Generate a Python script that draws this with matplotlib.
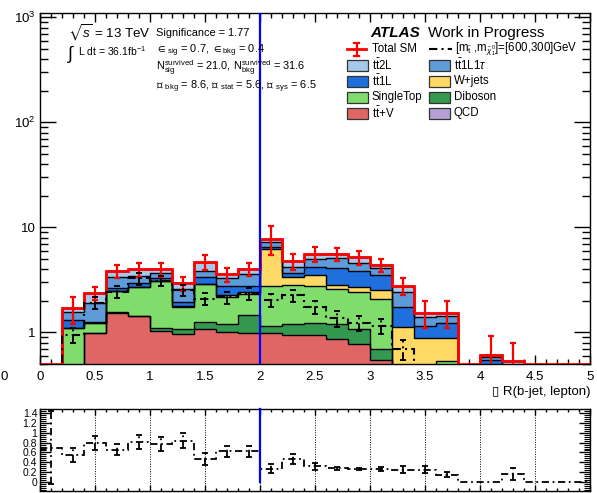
import numpy as np
import matplotlib
matplotlib.use("Agg")
import matplotlib.pyplot as plt
from matplotlib.ticker import MultipleLocator, FixedLocator, FuncFormatter, NullFormatter
from matplotlib.patches import Rectangle
from matplotlib.lines import Line2D

plt.rcParams['font.family'] = ['Liberation Sans', 'DejaVu Sans']
plt.rcParams['mathtext.fontset'] = 'custom'
plt.rcParams['mathtext.rm'] = 'Liberation Sans'
plt.rcParams['mathtext.it'] = 'Liberation Sans:italic'
plt.rcParams['mathtext.bf'] = 'Liberation Sans:bold'
plt.rcParams['mathtext.sf'] = 'Liberation Sans'
plt.rcParams['mathtext.fallback'] = 'stixsans'

# ---------------- data ----------------
bin_edges = np.round(np.arange(0.0, 5.0001, 0.2), 1)

ttV       = [0, 0.25, 0.99, 1.52, 1.43, 1.03, 0.96, 1.07, 1.00, 0.99, 0.98, 0.95, 0.94, 0.86, 0.77, 0.55, 0, 0, 0, 0, 0, 0, 0, 0, 0]
diboson   = [0, 0.05, 0.00, 0.05, 0.00, 0.06, 0.11, 0.19, 0.20, 0.47, 0.17, 0.25, 0.29, 0.34, 0.30, 0.15, 0, 0, 0, 0, 0, 0, 0, 0, 0]
singletop = [0, 0.79, 0.24, 0.92, 1.25, 2.01, 0.68, 1.63, 0.98, 0.86, 1.63, 1.60, 1.53, 1.37, 1.37, 1.36, 0.10, 0, 0.53, 0, 0, 0, 0, 0, 0]
wjets     = [0, 0, 0, 0, 0, 0, 0.03, 0, 0.07, 0.12, 3.39, 0.54, 0.76, 0.25, 0.24, 0.47, 1.02, 0.88, 0.35, 0, 0, 0, 0, 0, 0]
tt1L      = [0, 0.22, 0.03, 0.13, 0.29, 0.17, 0.18, 0.45, 0.51, 0.32, 0.35, 0.36, 0.70, 1.25, 1.18, 0.99, 0.61, 0.27, 0.35, 0, 0.55, 0, 0, 0, 0]
tt1L1tau  = [0, 0.26, 0.63, 0.72, 0.47, 0.42, 0.61, 0.52, 0.51, 0.83, 0.78, 0.50, 0.73, 0.99, 0.68, 0.55, 0.71, 0.26, 0.20, 0, 0.03, 0, 0, 0, 0]
tt2L      = [0, 0.12, 0.47, 0.49, 0.56, 0.31, 0.36, 0.81, 0.32, 0.39, 0.50, 0.57, 0.62, 0.51, 0.63, 0.30, 0.32, 0.13, 0.11, 0, 0.03, 0.53, 0, 0, 0]
qcd       = [0] * 25

total_err = [0, 0.48, 0.32, 0.55, 0.60, 0.62, 0.47, 0.73, 0.55, 0.55, 2.40, 0.85, 0.90, 0.75, 0.75, 0.65, 0.50, 0.43, 0.43, 0, 0.31, 0.27, 0, 0, 0]

signal     = [0, 0.94, 1.91, 2.44, 3.27, 3.10, 2.53, 2.10, 2.15, 2.32, 2.03, 2.25, 1.75, 1.36, 1.23, 1.15, 0.69, 0.39, 0.23, 0, 0, 0.085, 0, 0, 0]
signal_err = [0, 0.15, 0.24, 0.33, 0.43, 0.36, 0.32, 0.27, 0.27, 0.30, 0.27, 0.30, 0.25, 0.23, 0.20, 0.18, 0.15, 0.10, 0.07, 0, 0, 0.04, 0, 0, 0]

ratio     = [0.70, 0.55, 0.80, 0.66, 0.82, 0.77, 0.84, 0.46, 0.62, 0.62, 0.27, 0.46, 0.32, 0.28, 0.26, 0.26, 0.25, 0.25, 0.14, 0, 0, 0.16, 0, 0, 0]
ratio_err = [0.75, 0.15, 0.14, 0.12, 0.14, 0.15, 0.15, 0.12, 0.12, 0.12, 0.10, 0.10, 0.07, 0.03, 0.02, 0.05, 0.07, 0.07, 0.05, 0, 0, 0.12, 0, 0, 0]

cut_value = 2.0

stack_values = [ttV, diboson, singletop, wjets, tt1L, tt1L1tau, tt2L, qcd]
stack_colors = ["#e06666", "#34984e", "#80dd6c", "#ffd966",
                "#1f6fdc", "#5d9bd9", "#a6c8ea", "#b4a0d4"]

signal_label = "[m$_{\\mathrm{\\tilde{t}}}$ ,m$_{\\tilde{\\chi}^{0}_{1}}$]=[600,300]GeV"

# ---------------- figure ----------------
W, H = 597, 493
fig = plt.figure(figsize=(W / 100, H / 100), dpi=100)


def px_rect(l, t, r, b):
    return [l / W, 1 - b / H, (r - l) / W, (b - t) / H]


def fx(x):
    return x / W


def fy(y):
    return 1 - y / H


ax = fig.add_axes(px_rect(40, 13, 590, 364))
rax = fig.add_axes(px_rect(40, 409, 590, 491))

ymin, ymax = 0.5, 1100
floor = 1e-3
centers = 0.5 * (bin_edges[:-1] + bin_edges[1:])
nb = len(centers)

ax.set_yscale('log')

cum = np.zeros(nb)
for vals, col in zip(stack_values, stack_colors):
    lo = cum.copy()
    cum = cum + np.asarray(vals, dtype=float)
    ax.stairs(np.maximum(cum, floor), bin_edges, baseline=np.maximum(lo, floor),
              fill=True, color=col, linewidth=0, zorder=2)
    ax.stairs(np.maximum(cum, floor), bin_edges, baseline=None,
              color='black', linewidth=1.0, zorder=3)

total = cum
ax.stairs(np.where(total > 0, total, ymin), bin_edges, baseline=None,
          color='#ff0000', linewidth=2.0, zorder=5)
m = total > 0
ax.errorbar(centers[m], total[m], yerr=np.asarray(total_err)[m], fmt='none',
            ecolor='#ff0000', elinewidth=1.6, capsize=2.5, capthick=1.6, zorder=6)

dashdot = (0, (4, 2, 1, 2))
sig = np.asarray(signal, dtype=float)
ax.stairs(np.where(sig > 0, sig, floor), bin_edges, baseline=None,
          color='black', linewidth=1.5, linestyle=dashdot, zorder=7)
ms = sig > 0
eb = ax.errorbar(centers[ms], sig[ms], yerr=np.asarray(signal_err)[ms], fmt='none',
                 ecolor='black', elinewidth=1.4, capsize=2, capthick=1.4, zorder=8)
eb[2][0].set_linestyle(dashdot)

ax.axvline(cut_value, color='#0000ff', linewidth=1.6, zorder=9)

ax.set_xlim(0, 5)
ax.set_ylim(ymin, ymax)
ax.xaxis.set_major_locator(MultipleLocator(0.5))
ax.xaxis.set_minor_locator(MultipleLocator(0.1))
ax.xaxis.set_major_formatter(FuncFormatter(lambda v, p: f"{v:g}"))
ax.yaxis.set_major_locator(FixedLocator([1, 10, 100, 1000]))
ax.yaxis.set_minor_locator(FixedLocator([k * 10.0 ** e for e in range(-1, 3) for k in range(2, 10)]))
ax.yaxis.set_minor_formatter(NullFormatter())
ax.yaxis.set_major_formatter(FuncFormatter(
    lambda v, p: {1: "1", 10: "10", 100: "10$^{2}$", 1000: "10$^{3}$"}.get(int(round(v)), "")))
ax.tick_params(axis='both', which='both', direction='in', top=True, right=True, labelsize=9.5)
ax.tick_params(axis='x', which='major', length=6.5, width=1.0, pad=5)
ax.tick_params(axis='x', which='minor', length=3.3, width=1.0)
ax.tick_params(axis='y', which='major', length=11.5, width=1.0, pad=3)
ax.tick_params(axis='y', which='minor', length=5.8, width=1.0)
for s in ax.spines.values():
    s.set_linewidth(1.0)
ax.set_xlabel("\u25af R(b-jet, lepton)", fontsize=9.5, loc='right', labelpad=2)
# stray axis digit at the far left edge
fig.text(fx(0.5), fy(377), "0", fontsize=9.5, va='center', ha='left')

# ---------------- ratio panel ----------------
rat = np.asarray(ratio, dtype=float)
rax.stairs(rat, bin_edges, baseline=None, color='black', linewidth=1.3, linestyle=dashdot, zorder=4)
mr = np.asarray(ratio_err) > 0
eb2 = rax.errorbar(centers[mr], rat[mr], yerr=np.asarray(ratio_err)[mr], fmt='none',
                   ecolor='black', elinewidth=1.3, capsize=2, capthick=1.3, zorder=5)
eb2[2][0].set_linestyle(dashdot)
r_lo, r_hi = -0.19, 1.49
rax.plot([cut_value, cut_value], [0, r_hi], color='#0000ff', linewidth=1.6, zorder=6, clip_on=False)
rax.set_xlim(0, 5)
rax.set_ylim(r_lo, r_hi)
rax.xaxis.set_major_locator(MultipleLocator(0.5))
rax.xaxis.set_minor_locator(MultipleLocator(0.1))
rax.xaxis.set_major_formatter(NullFormatter())
rax.yaxis.set_major_locator(MultipleLocator(0.2))
rax.yaxis.set_minor_locator(MultipleLocator(0.04))
rax.yaxis.set_major_formatter(FuncFormatter(lambda v, p: f"{v:g}" if v > -0.01 else ""))
rax.tick_params(axis='both', which='both', direction='in', top=True, right=True, labelsize=7.5)
rax.tick_params(axis='x', which='major', length=4, width=1.0)
rax.tick_params(axis='x', which='minor', length=2.5, width=1.0)
rax.tick_params(axis='y', which='major', length=8, width=1.0, pad=2)
rax.tick_params(axis='y', which='minor', length=4, width=0.8)
rax.grid(axis='x', which='major', linestyle=(0, (1, 1.5)), color='black', linewidth=0.7)
for s in rax.spines.values():
    s.set_linewidth(1.0)

# ---------------- annotations ----------------
info_fs = 7.9
fig.text(fx(68), fy(33), "$\\sqrt{s}$ = 13 TeV", fontsize=9.6, va='center', ha='left')
fig.text(fx(67), fy(54), "$\\int$", fontsize=13, va='center', ha='left')
fig.text(fx(78), fy(51), "L dt = 36.1fb$^{-1}$", fontsize=7.5, va='center', ha='left')
fig.text(fx(156), fy(33), "Significance = 1.77", fontsize=info_fs, va='center', ha='left')
fig.text(fx(156), fy(51), "$\\in_{\\mathrm{sig}}$ = 0.7, $\\in_{\\mathrm{bkg}}$ = 0.4",
         fontsize=info_fs, va='center', ha='left')
fig.text(fx(156), fy(68), "N$^{\\mathrm{survived}}_{\\mathrm{sig}}$ = 21.0, N$^{\\mathrm{survived}}_{\\mathrm{bkg}}$ = 31.6",
         fontsize=info_fs, va='center', ha='left')
fig.text(fx(156), fy(87), "\u25af $_{\\mathrm{bkg}}$ = 8.6, \u25af $_{\\mathrm{stat}}$ = 5.6, \u25af $_{\\mathrm{sys}}$ = 6.5",
         fontsize=info_fs, va='center', ha='left')

fig.text(fx(370), fy(33), "ATLAS", fontsize=11, fontweight='bold', style='italic', va='center', ha='left')
fig.text(fx(428), fy(33), "Work in Progress", fontsize=11, va='center', ha='left')

# legend, drawn entry by entry
leg_rows = [49, 65, 81, 97, 113]
col1_x, col2_x = 347, 429
box_w, box_h = 21, 11
leg_fs = 8.3

# Total SM entry
fig.add_artist(Line2D([fx(347), fx(366)], [fy(49), fy(49)], color='#ff0000', lw=2.0))
fig.add_artist(Line2D([fx(356.5), fx(356.5)], [fy(43), fy(56)], color='#ff0000', lw=1.6))
fig.add_artist(Line2D([fx(354), fx(359)], [fy(43), fy(43)], color='#ff0000', lw=1.6))
fig.add_artist(Line2D([fx(354), fx(359)], [fy(56), fy(56)], color='#ff0000', lw=1.6))
fig.text(fx(372), fy(49), "Total SM", fontsize=leg_fs, va='center', ha='left')
# signal entry
fig.add_artist(Line2D([fx(429), fx(452)], [fy(49), fy(49)], color='black', lw=1.5, linestyle=dashdot))
fig.text(fx(455), fy(49), signal_label, fontsize=leg_fs, va='center', ha='left')

legend_layout = [("t$\\mathrm{\\bar{t}}$2L", 6, 0, 1), ("t$\\mathrm{\\bar{t}}$1L1$\\tau$", 5, 1, 1),
                 ("t$\\mathrm{\\bar{t}}$1L", 4, 0, 2), ("W+jets", 3, 1, 2),
                 ("SingleTop", 2, 0, 3), ("Diboson", 1, 1, 3),
                 ("t$\\mathrm{\\bar{t}}$+V", 0, 0, 4), ("QCD", 7, 1, 4)]
for label, idx, col, row in legend_layout:
    x0 = col1_x if col == 0 else col2_x
    yc = leg_rows[row]
    fig.add_artist(Rectangle((fx(x0), fy(yc + box_h / 2)), box_w / W, box_h / H,
                             facecolor=stack_colors[idx], edgecolor='#333333', lw=0.9))
    fig.text(fx(x0 + box_w + 4), fy(yc), label, fontsize=leg_fs, va='center', ha='left')

fig.savefig("out.png", dpi=100)
